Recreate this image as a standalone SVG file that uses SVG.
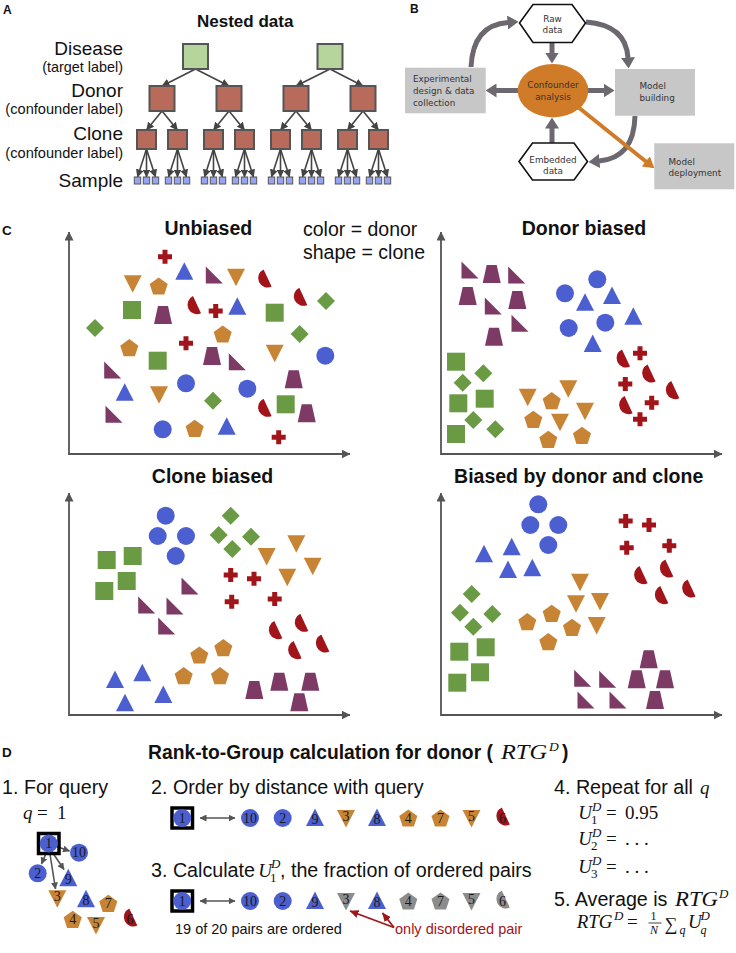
<svg xmlns="http://www.w3.org/2000/svg" width="736" height="953" viewBox="0 0 736 953">
<defs>
<style>
.t{font-family:"Liberation Sans",Arial,sans-serif;fill:#111}
.b{font-weight:bold}
.bt{font-family:"DejaVu Sans",Verdana,sans-serif;font-size:8.8px;fill:#333}
.m{font-family:"Liberation Serif","DejaVu Serif","Times New Roman",serif;fill:#111}
.i{font-style:italic}
.n{font-style:normal}
.g{fill:#6a9a44}.bl{fill:#4b5fd0}.o{fill:#c88435}.p{fill:#7c3a64}.r{fill:#a0141a}.gr{fill:#8c8c8c}
.num{font-family:"Liberation Serif","DejaVu Serif",serif;font-size:14px;fill:#1a1a1a;text-anchor:middle}
.aA{stroke:#444;stroke-width:1.6;fill:none;marker-end:url(#hA)}
.aB{stroke:#6d6870;stroke-width:5;fill:none;marker-end:url(#hB)}
.ax{stroke:#555;stroke-width:1.8;fill:none;marker-start:url(#hX);marker-end:url(#hX)}
.sqA{stroke:#555;stroke-width:2}
.box{fill:#c8c7c8}
.hex{fill:#fff;stroke:#111;stroke-width:1.6}
.qs{fill:none;stroke:#000;stroke-width:3.5}
.aD{stroke:#555;stroke-width:1.6;fill:none;marker-end:url(#hD)}
</style>
<marker id="hA" markerUnits="userSpaceOnUse" viewBox="0 -4 8 8" markerWidth="8" markerHeight="8" refX="7.5" refY="0" orient="auto"><path d="M0,-4L8,0L0,4z" fill="#444"/></marker>
<marker id="hB" markerUnits="userSpaceOnUse" viewBox="0 -7 11 14" markerWidth="11" markerHeight="14" refX="0.5" refY="0" orient="auto"><path d="M0,-7L11,0L0,7z" fill="#6d6870"/></marker>
<marker id="hO" markerUnits="userSpaceOnUse" viewBox="0 -6.5 11 13" markerWidth="11" markerHeight="13" refX="0.5" refY="0" orient="auto"><path d="M0,-6.5L11,0L0,6.5z" fill="#d07b28"/></marker>
<marker id="hX" markerUnits="userSpaceOnUse" viewBox="0 -4.5 9 9" markerWidth="9" markerHeight="9" refX="8.5" refY="0" orient="auto-start-reverse"><path d="M0,-4.5L9,0L0,4.5z" fill="#555"/></marker>
<marker id="hD" markerUnits="userSpaceOnUse" viewBox="0 -3.5 7 7" markerWidth="7" markerHeight="7" refX="6.5" refY="0" orient="auto-start-reverse"><path d="M0,-3.5L7,0L0,3.5z" fill="#555"/></marker>
<marker id="hR" markerUnits="userSpaceOnUse" viewBox="0 -4 9 8" markerWidth="9" markerHeight="8" refX="8.5" refY="0" orient="auto"><path d="M0,-4L9,0L0,4z" fill="#a0141a"/></marker>
<path id="sq" d="M-9,-9h18v18h-18z"/>
<path id="dia" d="M0,-9L9,0L0,9L-9,0z"/>
<circle id="ci" r="9"/>
<path id="tu" d="M0,-9.5L9,8L-9,8z"/>
<path id="td" d="M0,9.5L9,-8L-9,-8z"/>
<path id="pe" d="M0,-8.6L9.04,-2.04L5.58,8.59L-5.58,8.59L-9.04,-2.04z"/>
<path id="rt" d="M-8.5,-8.5L8.5,8.5H-8.5z"/>
<path id="tz" d="M-5,-9H5L9,9H-9z"/>
<path id="hc" d="M-9.5,-4.75A9.5,9.5 0 0 0 9.5,-4.75z" transform="rotate(65)"/>
<path id="pl" d="M-2.5,-7h5v4.5h4.5v5h-4.5v4.5h-5v-4.5h-4.5v-5h4.5z"/>
</defs>
<rect width="736" height="953" fill="#fff"/>

<!-- Panel A -->
<g id="panelA">
<text class="t b" x="3" y="13.5" font-size="12">A</text>
<text class="t b" x="197" y="26.5" font-size="17">Nested data</text>
<g class="t" text-anchor="end">
<text x="123" y="55" font-size="19">Disease</text>
<text x="123" y="72" font-size="14.4">(target label)</text>
<text x="123" y="96.5" font-size="19">Donor</text>
<text x="123" y="114" font-size="14.6">(confounder label)</text>
<text x="123" y="140" font-size="19">Clone</text>
<text x="123" y="158" font-size="14.6">(confounder label)</text>
<text x="123" y="187" font-size="19">Sample</text>
</g>
<g id="A-connectors">
<path class="aA" d="M195.5,69L162,86"/><path class="aA" d="M195.5,69L229,86"/><path class="aA" d="M330,69L296,86"/><path class="aA" d="M330,69L363,86"/>
<path class="aA" d="M162,111L146.5,130"/><path class="aA" d="M162,111L177.5,130"/><path class="aA" d="M229,111L213.5,130"/><path class="aA" d="M229,111L244.5,130"/>
<path class="aA" d="M296,111L280.5,130"/><path class="aA" d="M296,111L311.5,130"/><path class="aA" d="M363,111L347.5,130"/><path class="aA" d="M363,111L378.5,130"/>
<path class="aA" d="M146.5,149L137.5,177"/><path class="aA" d="M146.5,149L146.5,177"/><path class="aA" d="M146.5,149L155.5,177"/>
<path class="aA" d="M177.5,149L168.5,177"/><path class="aA" d="M177.5,149L177.5,177"/><path class="aA" d="M177.5,149L186.5,177"/>
<path class="aA" d="M213.5,149L204.5,177"/><path class="aA" d="M213.5,149L213.5,177"/><path class="aA" d="M213.5,149L222.5,177"/>
<path class="aA" d="M244.5,149L235.5,177"/><path class="aA" d="M244.5,149L244.5,177"/><path class="aA" d="M244.5,149L253.5,177"/>
<path class="aA" d="M280.5,149L271.5,177"/><path class="aA" d="M280.5,149L280.5,177"/><path class="aA" d="M280.5,149L289.5,177"/>
<path class="aA" d="M311.5,149L302.5,177"/><path class="aA" d="M311.5,149L311.5,177"/><path class="aA" d="M311.5,149L320.5,177"/>
<path class="aA" d="M347.5,149L338.5,177"/><path class="aA" d="M347.5,149L347.5,177"/><path class="aA" d="M347.5,149L356.5,177"/>
<path class="aA" d="M378.5,149L369.5,177"/><path class="aA" d="M378.5,149L378.5,177"/><path class="aA" d="M378.5,149L387.5,177"/>
</g>
<g id="A-disease" class="sqA" fill="#b5d59c"><rect x="183" y="44" width="25" height="25"/><rect x="317.5" y="44" width="25" height="25"/></g>
<g id="A-donor" class="sqA" fill="#b86b5a"><rect x="149.5" y="86" width="25" height="25"/><rect x="216.5" y="86" width="25" height="25"/><rect x="283.5" y="86" width="25" height="25"/><rect x="350.5" y="86" width="25" height="25"/></g>
<g id="A-clone" class="sqA" fill="#b86b5a"><rect x="137" y="130" width="19" height="19"/><rect x="168" y="130" width="19" height="19"/><rect x="204" y="130" width="19" height="19"/><rect x="235" y="130" width="19" height="19"/><rect x="271" y="130" width="19" height="19"/><rect x="302" y="130" width="19" height="19"/><rect x="338" y="130" width="19" height="19"/><rect x="369" y="130" width="19" height="19"/></g>
<g id="A-sample" fill="#96a5ee" stroke="#555" stroke-width="1">
<rect x="134.3" y="177" width="6.4" height="7"/><rect x="143.3" y="177" width="6.4" height="7"/><rect x="152.3" y="177" width="6.4" height="7"/>
<rect x="165.3" y="177" width="6.4" height="7"/><rect x="174.3" y="177" width="6.4" height="7"/><rect x="183.3" y="177" width="6.4" height="7"/>
<rect x="201.3" y="177" width="6.4" height="7"/><rect x="210.3" y="177" width="6.4" height="7"/><rect x="219.3" y="177" width="6.4" height="7"/>
<rect x="232.3" y="177" width="6.4" height="7"/><rect x="241.3" y="177" width="6.4" height="7"/><rect x="250.3" y="177" width="6.4" height="7"/>
<rect x="268.3" y="177" width="6.4" height="7"/><rect x="277.3" y="177" width="6.4" height="7"/><rect x="286.3" y="177" width="6.4" height="7"/>
<rect x="299.3" y="177" width="6.4" height="7"/><rect x="308.3" y="177" width="6.4" height="7"/><rect x="317.3" y="177" width="6.4" height="7"/>
<rect x="335.3" y="177" width="6.4" height="7"/><rect x="344.3" y="177" width="6.4" height="7"/><rect x="353.3" y="177" width="6.4" height="7"/>
<rect x="366.3" y="177" width="6.4" height="7"/><rect x="375.3" y="177" width="6.4" height="7"/><rect x="384.3" y="177" width="6.4" height="7"/>
</g>
</g>

<!-- Panel B -->
<g id="panelB">
<text class="t b" x="410" y="12.7" font-size="12">B</text>
<g id="B-connectors">
<path class="aB" d="M552,43V53"/>
<path class="aB" d="M552,143V128"/>
<path class="aB" d="M518,90.5H496"/>
<path class="aB" d="M588,90.5H604"/>
<path class="aB" d="M471,67Q473,25 508,22.5"/>
<path class="aB" d="M586,22Q626,25 628,58"/>
<path class="aB" d="M635,116Q634,158 599,161"/>
<path d="M578,107L646.2,161.7" stroke="#d07b28" stroke-width="4" fill="none" marker-end="url(#hO)"/>
</g>
<g id="B-raw"><path class="hex" d="M519.5,23L533,4.5H572L585.5,23L572,42.5H533z"/><text class="bt" x="552.5" y="21.5" text-anchor="middle">Raw</text><text class="bt" x="552.5" y="33" text-anchor="middle">data</text></g>
<g id="B-exp"><rect class="box" x="405" y="67.7" width="80.7" height="45.6"/><text class="bt" x="413" y="82">Experimental</text><text class="bt" x="413" y="94">design &amp; data</text><text class="bt" x="413" y="106">collection</text></g>
<g id="B-conf"><ellipse cx="553" cy="90.7" rx="35.3" ry="26.7" fill="#d07b28"/><text class="bt" x="553" y="88" text-anchor="middle" font-size="9">Confounder</text><text class="bt" x="553" y="100" text-anchor="middle" font-size="9">analysis</text></g>
<g id="B-model"><rect class="box" x="615" y="69" width="80" height="46.7"/><text class="bt" x="639.5" y="89.3">Model</text><text class="bt" x="639.5" y="101">building</text></g>
<g id="B-emb"><path class="hex" d="M519,161.5L532.5,143H574L587.5,161.5L574,180H532.5z"/><text class="bt" x="553" y="162.5" text-anchor="middle">Embedded</text><text class="bt" x="553" y="174" text-anchor="middle">data</text></g>
<g id="B-deploy"><rect class="box" x="654.3" y="143.3" width="80" height="46"/><text class="bt" x="668.5" y="164.5">Model</text><text class="bt" x="668.5" y="176">deployment</text></g>
</g>

<!-- Panel C -->
<g id="panelC">
<text class="t b" x="2" y="235" font-size="13.5">C</text>
<text class="t b" x="208.3" y="235" font-size="19.5" text-anchor="middle">Unbiased</text>
<text class="t b" x="584" y="235" font-size="19.5" text-anchor="middle">Donor biased</text>
<text class="t b" x="212.5" y="483" font-size="19.5" text-anchor="middle">Clone biased</text>
<text class="t b" x="578.7" y="483" font-size="19.5" text-anchor="middle">Biased by donor and clone</text>
<text class="t" x="303" y="236" font-size="19.5">color = donor</text>
<text class="t" x="303" y="259" font-size="19.5">shape = clone</text>
<g id="C-axes">
<path class="ax" d="M69,232V454H350"/>
<path class="ax" d="M441,232V454H722"/>
<path class="ax" d="M69,493V715H350"/>
<path class="ax" d="M441,493V715H722"/>
</g>
<g id="C-unbiased">
<use href="#pl" class="r" x="165" y="256.7"/><use href="#pl" class="r" x="215.7" y="311"/><use href="#pl" class="r" x="186" y="343.3"/><use href="#pl" class="r" x="278.7" y="437.3"/>
<use href="#tu" class="bl" x="184.3" y="271.7"/><use href="#tu" class="bl" x="237.3" y="306.7"/><use href="#tu" class="bl" x="124.7" y="392.7"/><use href="#tu" class="bl" x="226.7" y="426.7"/>
<use href="#rt" class="p" x="214.3" y="275"/><use href="#rt" class="p" x="237.3" y="361.7"/><use href="#rt" class="p" x="112.7" y="370"/><use href="#rt" class="p" x="114" y="414.3"/>
<use href="#td" class="o" x="236" y="276.7"/><use href="#td" class="o" x="132.7" y="283.3"/><use href="#td" class="o" x="274.7" y="352.7"/><use href="#td" class="o" x="159" y="394.3"/>
<use href="#hc" class="r" x="263.3" y="280"/><use href="#hc" class="r" x="299" y="298.3"/><use href="#hc" class="r" x="192.7" y="306.7"/><use href="#hc" class="r" x="263.3" y="409.3"/>
<use href="#pe" class="o" x="158.7" y="286"/><use href="#pe" class="o" x="222.7" y="334"/><use href="#pe" class="o" x="129.3" y="347.7"/><use href="#pe" class="o" x="194.7" y="428.3"/>
<use href="#dia" class="g" x="326" y="301"/><use href="#dia" class="g" x="95" y="328"/><use href="#dia" class="g" x="299.7" y="334"/><use href="#dia" class="g" x="213" y="400.7"/>
<use href="#sq" class="g" x="132" y="310"/><use href="#sq" class="g" x="274.7" y="312.7"/><use href="#sq" class="g" x="157.7" y="360.7"/><use href="#sq" class="g" x="285.7" y="404.3"/>
<use href="#tz" class="p" x="163" y="315"/><use href="#tz" class="p" x="212" y="356"/><use href="#tz" class="p" x="293.7" y="379.3"/><use href="#tz" class="p" x="306.7" y="413.3"/>
<use href="#ci" class="bl" x="325.3" y="355.7"/><use href="#ci" class="bl" x="186" y="383.3"/><use href="#ci" class="bl" x="247.3" y="388.7"/><use href="#ci" class="bl" x="162.7" y="429.3"/>
</g>
<g id="C-donor">
<use href="#rt" class="p" x="470" y="270"/><use href="#rt" class="p" x="516.7" y="275"/><use href="#rt" class="p" x="493.3" y="306"/><use href="#rt" class="p" x="520" y="323.3"/>
<use href="#tz" class="p" x="491.7" y="274"/><use href="#tz" class="p" x="467.7" y="296"/><use href="#tz" class="p" x="517.3" y="300"/><use href="#tz" class="p" x="494" y="336.7"/>
<use href="#ci" class="bl" x="597.3" y="279.3"/><use href="#ci" class="bl" x="565" y="293.3"/><use href="#ci" class="bl" x="605.3" y="322.7"/><use href="#ci" class="bl" x="568.7" y="328"/>
<use href="#tu" class="bl" x="612" y="296"/><use href="#tu" class="bl" x="585" y="302.7"/><use href="#tu" class="bl" x="633.3" y="316.7"/><use href="#tu" class="bl" x="592.7" y="344"/>
<use href="#sq" class="g" x="456" y="361.7"/><use href="#sq" class="g" x="484.7" y="398.7"/><use href="#sq" class="g" x="458.3" y="403.3"/><use href="#sq" class="g" x="456" y="434"/>
<use href="#dia" class="g" x="483.3" y="373.3"/><use href="#dia" class="g" x="462.7" y="382.7"/><use href="#dia" class="g" x="473.3" y="420"/><use href="#dia" class="g" x="495.3" y="429.3"/>
<use href="#td" class="o" x="568.3" y="388.3"/><use href="#td" class="o" x="527.7" y="396.7"/><use href="#td" class="o" x="585" y="410.7"/><use href="#td" class="o" x="560" y="421.7"/>
<use href="#pe" class="o" x="551.7" y="400.7"/><use href="#pe" class="o" x="533.3" y="419.3"/><use href="#pe" class="o" x="548.3" y="439.3"/><use href="#pe" class="o" x="582" y="435.3"/>
<use href="#hc" class="r" x="621.7" y="360"/><use href="#hc" class="r" x="647.3" y="375"/><use href="#hc" class="r" x="671" y="391.7"/><use href="#hc" class="r" x="624.3" y="406.7"/>
<use href="#pl" class="r" x="640" y="353.3"/><use href="#pl" class="r" x="625.3" y="384"/><use href="#pl" class="r" x="651.7" y="402.7"/><use href="#pl" class="r" x="640" y="419.3"/>
</g>
<g id="C-clone">
<use href="#ci" class="bl" x="165.7" y="515.7"/><use href="#ci" class="bl" x="157.7" y="536"/><use href="#ci" class="bl" x="186" y="536"/><use href="#ci" class="bl" x="175.7" y="556"/>
<use href="#dia" class="g" x="230.7" y="515.7"/><use href="#dia" class="g" x="218.7" y="535"/><use href="#dia" class="g" x="251" y="536.7"/><use href="#dia" class="g" x="232.3" y="549"/>
<use href="#sq" class="g" x="106.7" y="560"/><use href="#sq" class="g" x="132.7" y="556"/><use href="#sq" class="g" x="126.7" y="581"/><use href="#sq" class="g" x="104.3" y="591"/>
<use href="#td" class="o" x="296.3" y="543.3"/><use href="#td" class="o" x="266.7" y="556"/><use href="#td" class="o" x="312.7" y="565.7"/><use href="#td" class="o" x="287.3" y="576.7"/>
<use href="#pl" class="r" x="230.7" y="575"/><use href="#pl" class="r" x="254" y="578.7"/><use href="#pl" class="r" x="231.7" y="601.7"/><use href="#pl" class="r" x="274.7" y="599"/>
<use href="#rt" class="p" x="190" y="586"/><use href="#rt" class="p" x="146.7" y="605"/><use href="#rt" class="p" x="175" y="606"/><use href="#rt" class="p" x="166.7" y="626"/>
<use href="#hc" class="r" x="300" y="624.3"/><use href="#hc" class="r" x="274" y="631.7"/><use href="#hc" class="r" x="321" y="645"/><use href="#hc" class="r" x="293.3" y="651.7"/>
<use href="#pe" class="o" x="223.3" y="647.7"/><use href="#pe" class="o" x="199.3" y="655"/><use href="#pe" class="o" x="183.7" y="675.7"/><use href="#pe" class="o" x="220" y="675.7"/>
<use href="#tu" class="bl" x="142.3" y="673.3"/><use href="#tu" class="bl" x="115" y="680"/><use href="#tu" class="bl" x="163.3" y="695"/><use href="#tu" class="bl" x="125" y="703.3"/>
<use href="#tz" class="p" x="279.3" y="681.7"/><use href="#tz" class="p" x="310.3" y="681.7"/><use href="#tz" class="p" x="254.3" y="690"/><use href="#tz" class="p" x="299.3" y="702.3"/>
</g>
<g id="C-both">
<use href="#ci" class="bl" x="538.3" y="504.3"/><use href="#ci" class="bl" x="530.3" y="525"/><use href="#ci" class="bl" x="558.3" y="525"/><use href="#ci" class="bl" x="548.3" y="545"/>
<use href="#tu" class="bl" x="511.7" y="547.3"/><use href="#tu" class="bl" x="484" y="554.3"/><use href="#tu" class="bl" x="508" y="570"/><use href="#tu" class="bl" x="532.3" y="568.3"/>
<use href="#pl" class="r" x="625.7" y="521"/><use href="#pl" class="r" x="649" y="525"/><use href="#pl" class="r" x="626.7" y="547.7"/><use href="#pl" class="r" x="669.3" y="545.7"/>
<use href="#hc" class="r" x="665" y="570"/><use href="#hc" class="r" x="639.3" y="576.7"/><use href="#hc" class="r" x="687.3" y="590"/><use href="#hc" class="r" x="660" y="596.7"/>
<use href="#td" class="o" x="580" y="581.7"/><use href="#td" class="o" x="600" y="601"/><use href="#td" class="o" x="576" y="603.3"/><use href="#td" class="o" x="596.7" y="625"/>
<use href="#pe" class="o" x="527.3" y="621.7"/><use href="#pe" class="o" x="551.7" y="613.3"/><use href="#pe" class="o" x="572" y="627.3"/><use href="#pe" class="o" x="548.3" y="641.7"/>
<use href="#dia" class="g" x="471.7" y="594"/><use href="#dia" class="g" x="460" y="612.7"/><use href="#dia" class="g" x="492.3" y="614"/><use href="#dia" class="g" x="473.3" y="626.7"/>
<use href="#sq" class="g" x="459.3" y="651.7"/><use href="#sq" class="g" x="485.7" y="647.3"/><use href="#sq" class="g" x="480" y="672.3"/><use href="#sq" class="g" x="457.3" y="682.7"/>
<use href="#rt" class="p" x="582.7" y="678.3"/><use href="#rt" class="p" x="607.7" y="679.3"/><use href="#rt" class="p" x="586" y="700"/><use href="#rt" class="p" x="618" y="700"/>
<use href="#tz" class="p" x="648.7" y="659.3"/><use href="#tz" class="p" x="636.7" y="679.3"/><use href="#tz" class="p" x="665" y="679.3"/><use href="#tz" class="p" x="655" y="700"/>
</g>
</g>

<!-- Panel D -->
<g id="panelD">
<text class="t b" x="2" y="757" font-size="13.5">D</text>
<text class="t b" x="148" y="759" font-size="19.3">Rank-to-Group calculation for donor (</text>
<text class="m i" x="501" y="759" font-size="21"><tspan textLength="46" lengthAdjust="spacingAndGlyphs">RTG</tspan><tspan x="549" y="751" font-size="13.5">D</tspan></text>
<text class="t b" x="562" y="759" font-size="19.3">)</text>

<text class="t" x="2" y="794" font-size="19.7">1. For query</text>
<text class="m" x="23" y="819" font-size="19"><tspan class="i">q</tspan><tspan x="37">=</tspan><tspan x="57">1</tspan></text>

<text class="t" x="151" y="794" font-size="19.7">2. Order by distance with query</text>
<text class="t" x="151" y="877" font-size="19.7">3. Calculate</text>
<text class="m i" x="258.3" y="877" font-size="19">U<tspan class="n" x="270" y="882" font-size="13">1</tspan><tspan x="271" y="868" font-size="13">D</tspan></text>
<text class="t" x="280" y="877" font-size="19.7">, the fraction of ordered pairs</text>

<text class="t" x="554" y="794" font-size="19.7">4. Repeat for all</text>
<text class="m i" x="700" y="794" font-size="19">q</text>
<text class="m i" x="578.3" y="819" font-size="19">U<tspan class="n" x="591" y="824" font-size="13">1</tspan><tspan x="592" y="811" font-size="13">D</tspan><tspan class="n" x="606" y="819">=</tspan><tspan class="n" x="625" y="819">0.95</tspan></text>
<text class="m i" x="578.3" y="845" font-size="19">U<tspan class="n" x="591" y="850" font-size="13">2</tspan><tspan x="592" y="837" font-size="13">D</tspan><tspan class="n" x="606" y="845">=</tspan><tspan class="n" x="625" y="845">. . .</tspan></text>
<text class="m i" x="578.3" y="873" font-size="19">U<tspan class="n" x="591" y="878" font-size="13">3</tspan><tspan x="592" y="865" font-size="13">D</tspan><tspan class="n" x="606" y="873">=</tspan><tspan class="n" x="625" y="873">. . .</tspan></text>

<text class="t" x="554" y="906" font-size="19.7">5. Average is</text>
<text class="m i" x="675" y="906" font-size="20"><tspan textLength="43" lengthAdjust="spacingAndGlyphs">RTG</tspan><tspan x="719" y="898" font-size="13">D</tspan></text>
<text class="m i" x="576.7" y="928" font-size="19">RTG<tspan x="614" y="920" font-size="13">D</tspan><tspan class="n" x="627" y="928">=</tspan><tspan class="n" x="650.5" y="919.5" font-size="12">1</tspan><tspan x="650" y="934" font-size="12">N</tspan><tspan class="n" x="664.5" y="930" font-size="18">∑</tspan><tspan x="679.5" y="934" font-size="12">q</tspan><tspan x="688" y="928">U</tspan><tspan x="700.5" y="920" font-size="13">D</tspan><tspan x="700.5" y="934" font-size="12">q</tspan></text>
<line x1="648.5" y1="923" x2="661.5" y2="923" stroke="#111" stroke-width="0.8"/>

<g id="D-connectors">
<path class="aD" d="M55,846L69.5,851"/>
<path class="aD" d="M47,851L41.5,864"/>
<path class="aD" d="M51.5,851L64,869.5"/>
<path class="aD" d="M49.5,851L55.5,889"/>
<path class="aD" d="M200,818H235" marker-start="url(#hD)"/>
<path class="aD" d="M200,901H235" marker-start="url(#hD)"/>
<path d="M394,927.5L350,911" stroke="#a0141a" stroke-width="1.8" fill="none" marker-end="url(#hR)"/>
<path d="M394,927.5L382.5,913" stroke="#a0141a" stroke-width="1.8" fill="none" marker-end="url(#hR)"/>
</g>

<g id="D-step1">
<use href="#ci" class="bl" x="79" y="852.7"/><text class="num" x="79" y="857.2">10</text>
<use href="#ci" class="bl" x="37.7" y="873.3"/><text class="num" x="37.7" y="877.8">2</text>
<use href="#tu" class="bl" x="68.3" y="878.3"/><text class="num" x="68.3" y="884.3">9</text>
<use href="#td" class="o" x="57.3" y="898.3"/><text class="num" x="57.3" y="900.8">3</text>
<use href="#tu" class="bl" x="86" y="899.3"/><text class="num" x="86" y="905.3">8</text>
<use href="#pe" class="o" x="108.3" y="903.3"/><text class="num" x="108.3" y="907.8">7</text>
<use href="#pe" class="o" x="72.7" y="919.3"/><text class="num" x="72.7" y="923.8">4</text>
<use href="#td" class="o" x="96" y="925"/><text class="num" x="96" y="927.5">5</text>
<use href="#hc" class="r" x="129" y="919"/><text class="num" x="130" y="923.5">6</text>
<rect class="qs" x="38.5" y="833.5" width="20.5" height="20"/>
<use href="#ci" class="bl" x="48.7" y="843.5"/><text class="num" x="48.7" y="848">1</text>
</g>

<g id="D-step2">
<rect class="qs" x="172" y="808" width="20.5" height="20"/>
<use href="#ci" class="bl" x="182.2" y="818"/><text class="num" x="182.2" y="822.5">1</text>
<use href="#ci" class="bl" x="250" y="818"/><text class="num" x="250" y="822.5">10</text>
<use href="#ci" class="bl" x="282.7" y="818"/><text class="num" x="282.7" y="822.5">2</text>
<use href="#tu" class="bl" x="315" y="818"/><text class="num" x="315" y="824">9</text>
<use href="#td" class="o" x="346" y="818"/><text class="num" x="346" y="820.5">3</text>
<use href="#tu" class="bl" x="377" y="818"/><text class="num" x="377" y="824">8</text>
<use href="#pe" class="o" x="408.3" y="818"/><text class="num" x="408.3" y="822.5">4</text>
<use href="#pe" class="o" x="440.5" y="818"/><text class="num" x="440.5" y="822.5">7</text>
<use href="#td" class="o" x="471.5" y="818"/><text class="num" x="471.5" y="820.5">5</text>
<use href="#hc" class="r" x="501.5" y="818"/><text class="num" x="502.5" y="822.5">6</text>
</g>

<g id="D-step3">
<rect class="qs" x="172" y="891" width="20.5" height="20"/>
<use href="#ci" class="bl" x="182.2" y="901"/><text class="num" x="182.2" y="905.5">1</text>
<use href="#ci" class="bl" x="250" y="901"/><text class="num" x="250" y="905.5">10</text>
<use href="#ci" class="bl" x="282.7" y="901"/><text class="num" x="282.7" y="905.5">2</text>
<use href="#tu" class="bl" x="315" y="901"/><text class="num" x="315" y="907">9</text>
<use href="#td" class="gr" x="346" y="901"/><text class="num" x="346" y="903.5">3</text>
<use href="#tu" class="bl" x="377" y="901"/><text class="num" x="377" y="907">8</text>
<use href="#pe" class="gr" x="408.3" y="901"/><text class="num" x="408.3" y="905.5">4</text>
<use href="#pe" class="gr" x="440.5" y="901"/><text class="num" x="440.5" y="905.5">7</text>
<use href="#td" class="gr" x="471.5" y="901"/><text class="num" x="471.5" y="903.5">5</text>
<use href="#hc" class="gr" x="501.5" y="901"/><text class="num" x="502.5" y="905.5">6</text>
</g>
<text class="t" x="175" y="934" font-size="14.5">19 of 20 pairs are ordered</text>
<text class="t" x="395" y="934" font-size="14.5" style="fill:#a0141a">only disordered pair</text>
</g>
</svg>
